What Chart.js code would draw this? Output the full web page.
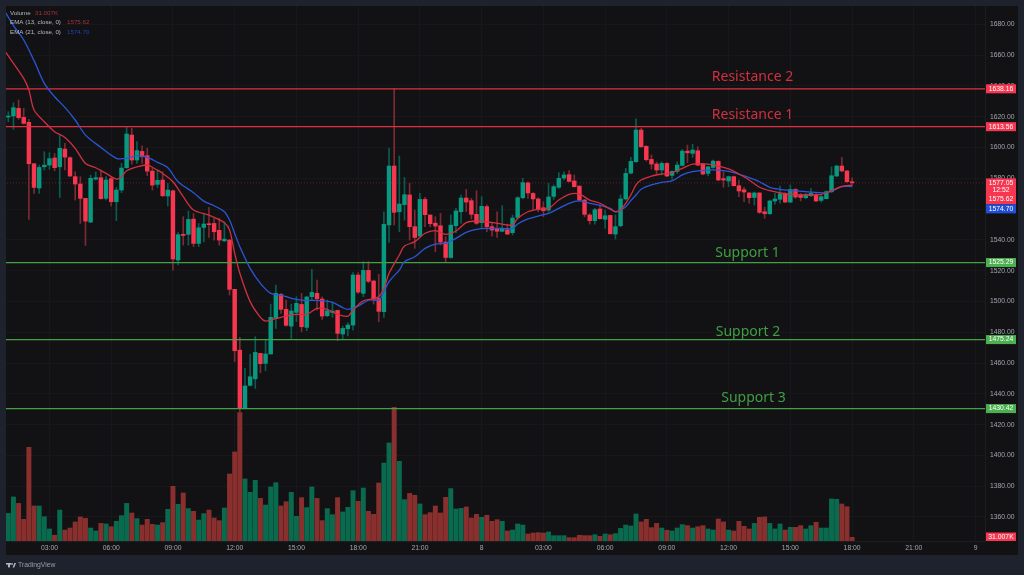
<!DOCTYPE html>
<html>
<head>
<meta charset="utf-8">
<title>Chart</title>
<script src="https://cdn.jsdelivr.net/npm/chart.js@4"></script>
<style>
    html, body { margin: 0; padding: 0; background: #1e222d; overflow: hidden; }
    canvas { display: block; }
</style>
</head>
<body>
<canvas id="priceChart" width="1024" height="575"></canvas>
<script>
// 15 minute candles, first one at 01:00
const opens = [
    1619.8,1620.5,1625.5,1619.6,1616.4,1589.5,1573.7,1587.5,1588.6,1593.2,
    1587.5,1599.0,1593.4,1581.1,1576.3,1567.0,1551.6,1579.5,1580.4,1567.0,
    1579.8,1564.8,1572.4,1586.9,1608.1,1591.9,1597.5,1594.7,1584.7,1576.1,
    1578.9,1568.5,1571.9,1526.9,1543.6,1543.6,1553.5,1537.7,1548.1,1550.5,
    1550.7,1546.2,1539.4,1539.9,1507.9,1468.4,1430.5,1445.5,1449.8,1466.3,
    1459.8,1465.9,1489.0,1504.6,1494.9,1484.0,1492.9,1498.1,1483.2,1503.1,
    1505.3,1501.6,1490.8,1492.9,1494.2,1478.9,1482.3,1484.7,1517.2,1505.3,
    1520.2,1513.3,1502.0,1493.4,1549.7,1588.0,1558.3,1562.9,1569.2,1548.6,
    1542.5,1566.3,1556.2,1550.9,1549.2,1538.6,1528.6,1549.2,1558.3,1567.2,
    1565.5,1556.6,1551.2,1561.6,1548.6,1546.9,1545.6,1546.6,1544.7,1554.6,
    1567.4,1577.0,1570.2,1566.6,1560.9,1559.4,1568.3,1574.2,1580.2,1582.4,
    1578.3,1575.0,1565.9,1556.2,1552.5,1560.1,1553.4,1555.9,1543.8,1549.2,
    1566.6,1583.4,1590.8,1611.4,1600.8,1592.3,1589.3,1585.4,1589.7,1581.9,
    1584.5,1588.4,1597.7,1596.2,1597.9,1589.3,1583.2,1587.1,1591.0,1579.8,
    1578.3,1581.1,1575.2,1572.6,1570.5,1567.6,1570.5,1558.3,1557.0,1565.3,
    1566.4,1570.0,1564.6,1572.8,1569.2,1567.4,1568.7,1569.2,1565.7,1566.8,
    1571.3,1581.5,1588.0,1584.8,1577.8
];
const closes = [
    1620.5,1625.9,1619.4,1615.7,1589.5,1574.1,1587.1,1588.6,1592.8,1586.9,
    1599.5,1593.8,1581.5,1576.3,1567.0,1552.2,1580.0,1580.4,1566.8,1578.9,
    1564.8,1572.4,1586.7,1608.8,1591.9,1598.0,1594.0,1584.7,1575.6,1578.7,
    1568.7,1572.4,1527.6,1543.4,1542.9,1553.3,1537.7,1547.9,1550.3,1549.9,
    1545.3,1539.9,1540.5,1507.9,1468.0,1430.5,1445.1,1451.1,1466.9,1459.6,
    1465.9,1489.7,1505.3,1494.9,1484.5,1493.8,1498.8,1483.6,1502.9,1505.9,
    1501.8,1490.5,1494.0,1493.8,1479.3,1482.5,1484.7,1517.2,1506.1,1520.2,
    1513.1,1501.4,1493.6,1550.1,1588.0,1557.9,1563.3,1569.4,1548.6,1541.6,
    1566.3,1556.4,1550.5,1549.0,1538.6,1528.6,1549.6,1558.8,1567.2,1564.6,
    1556.6,1550.8,1561.8,1548.6,1546.4,1545.6,1546.9,1543.8,1554.2,1567.4,
    1577.2,1570.5,1566.6,1559.6,1559.0,1567.9,1574.6,1580.0,1582.2,1578.0,
    1574.6,1565.9,1556.6,1552.5,1559.6,1553.8,1555.7,1544.0,1548.6,1566.6,
    1583.2,1591.0,1611.4,1600.5,1592.1,1589.3,1585.4,1589.7,1581.5,1584.5,
    1588.6,1597.7,1596.6,1598.4,1588.6,1582.8,1587.5,1591.2,1578.9,1578.9,
    1581.1,1575.2,1571.8,1571.1,1567.4,1570.5,1557.9,1557.0,1565.3,1566.6,
    1570.0,1564.6,1572.8,1567.9,1567.6,1569.4,1570.2,1565.3,1568.1,1571.3,
    1581.7,1588.0,1584.8,1577.8,1577.05
];
const highs = [
    1623.3,1629.1,1630.9,1625.5,1618.3,1589.5,1588.6,1597.3,1596.7,1596.2,
    1608.1,1602.7,1594.0,1584.3,1581.1,1567.0,1582.1,1584.1,1585.4,1581.1,
    1581.1,1573.9,1589.7,1613.1,1612.5,1603.8,1601.2,1599.5,1586.5,1585.4,
    1584.3,1576.7,1572.4,1544.7,1555.1,1558.7,1557.2,1550.7,1556.6,1561.1,
    1554.0,1554.0,1551.8,1540.4,1507.9,1476.7,1456.5,1465.6,1477.1,1466.3,
    1475.0,1498.3,1510.7,1505.3,1500.9,1498.3,1503.1,1505.3,1503.5,1520.9,
    1513.9,1503.1,1500.9,1499.2,1494.4,1484.0,1486.2,1518.7,1518.7,1525.9,
    1525.9,1513.9,1517.6,1558.3,1599.5,1638.2,1594.5,1580.6,1576.8,1559.4,
    1570.2,1567.6,1556.2,1555.1,1557.2,1542.1,1556.2,1560.5,1569.2,1572.8,
    1567.0,1572.0,1568.1,1562.7,1550.8,1558.3,1562.2,1550.3,1556.2,1568.1,
    1580.0,1577.8,1570.7,1567.4,1564.8,1576.7,1575.7,1583.7,1584.3,1585.0,
    1582.2,1575.0,1566.4,1557.2,1560.5,1562.7,1559.4,1555.9,1556.2,1569.2,
    1586.5,1593.6,1618.6,1612.5,1601.2,1595.2,1590.6,1590.8,1590.2,1584.8,
    1590.8,1598.8,1601.6,1602.1,1600.5,1589.7,1588.0,1591.9,1591.5,1584.3,
    1581.5,1581.5,1578.9,1574.2,1570.7,1571.1,1570.7,1561.2,1565.9,1570.2,
    1575.0,1570.7,1575.7,1573.3,1570.2,1570.2,1573.5,1570.7,1569.6,1572.0,
    1587.5,1588.6,1593.6,1585.0,1580.4
];
const lows = [
    1616.8,1611.8,1618.3,1615.3,1553.3,1570.2,1570.2,1585.4,1585.8,1584.9,
    1567.6,1585.4,1581.1,1565.9,1550.7,1536.4,1551.2,1578.9,1566.5,1565.9,
    1562.0,1552.5,1570.7,1586.5,1589.3,1589.7,1589.7,1581.7,1572.4,1574.1,
    1568.1,1562.0,1520.4,1523.7,1536.6,1536.6,1535.6,1535.6,1538.8,1541.6,
    1539.9,1536.6,1538.8,1504.2,1460.9,1428.0,1430.5,1445.1,1443.5,1453.7,
    1455.0,1465.9,1482.5,1492.3,1484.0,1476.0,1486.9,1480.4,1481.0,1500.9,
    1494.4,1488.4,1490.1,1489.7,1474.5,1475.4,1477.6,1481.4,1505.3,1503.1,
    1512.2,1498.3,1486.9,1489.7,1538.4,1549.7,1545.3,1552.9,1539.9,1534.5,
    1542.1,1548.6,1548.6,1532.3,1536.7,1525.8,1528.0,1544.7,1550.8,1558.3,
    1553.6,1550.1,1547.5,1545.3,1542.5,1541.6,1545.3,1543.4,1543.2,1553.6,
    1566.6,1567.0,1559.4,1558.3,1555.1,1558.3,1566.4,1573.5,1578.9,1577.6,
    1574.2,1565.3,1555.1,1550.3,1550.3,1553.4,1547.5,1543.8,1540.6,1548.6,
    1565.9,1582.8,1590.4,1600.1,1591.2,1586.1,1582.8,1582.2,1581.1,1579.3,
    1583.2,1588.0,1590.2,1593.6,1588.2,1582.2,1581.5,1586.5,1578.5,1574.2,
    1574.6,1575.0,1568.1,1564.8,1563.8,1562.7,1557.2,1554.0,1556.6,1563.3,
    1563.8,1564.2,1564.2,1567.0,1565.3,1566.8,1568.1,1564.8,1564.6,1566.6,
    1570.7,1581.1,1584.3,1577.4,1575.0
];
// volume in thousands
const volumes = [
    232,370,316,182,787,294,294,204,101,48,
    260,92,109,160,202,190,109,84,148,143,
    120,165,213,316,235,188,134,182,140,134,
    154,266,459,308,403,272,249,176,230,260,
    193,171,277,563,748,1078,521,409,510,358,
    302,454,490,294,330,409,207,364,280,454,
    358,171,272,221,364,244,283,423,333,445,
    249,224,487,655,823,1123,669,347,400,384,
    311,221,238,294,235,367,440,269,274,286,
    193,224,199,216,165,179,165,84,92,143,
    134,59,67,70,67,76,45,45,45,28,
    28,48,45,45,53,39,59,53,62,106,
    134,126,227,160,182,112,148,109,90,84,
    109,137,129,109,120,129,101,92,185,160,
    92,84,165,123,101,148,199,202,148,101,
    143,92,115,115,129,101,129,157,109,109,
    353,350,311,288,31
];

const ema13Idx = [
    -1,1,3,4,5,7,9,11,13,15,17,19,21,22,23,25,27,29,30,32,34,36,39,42,43,
    44,45,47,49,50,52,54,56,58,60,62,64,66,67,69,71,72,73,74,76,77,79,81,83,85,
    87,89,91,93,96,98,99,101,103,105,107,109,111,113,115,117,118,119,120,121,122,123,125,127,
    129,131,133,136,138,140,142,144,146,148,151,154,158,160,161,162,164
];
const ema13Values = [
    1664.4,1654.7,1644.9,1637.4,1624.4,1616.8,1610.3,1606.6,1599.5,1589.7,1586.9,1583.2,1579.5,1581.0,1584.9,1587.5,1588.6,1585.3,1583.2,1577.8,1568.1,1559.4,1556.1,1551.2,1546.4,
    1531.3,1518.3,1499.9,1489.7,1487.3,1488.8,1490.5,1491.6,1491.6,1495.5,1494.9,1491.6,1490.5,1494.4,1500.5,1501.8,1503.1,1508.5,1518.3,1530.2,1536.0,1538.9,1544.3,1546.0,1543.6,
    1545.8,1551.2,1552.3,1551.8,1550.3,1549.7,1554.0,1558.3,1559.9,1560.5,1565.9,1569.6,1569.8,1565.9,1563.8,1559.9,1558.3,1559.4,1563.8,1569.2,1575.7,1578.9,1581.5,1582.8,
    1583.7,1586.5,1589.3,1589.3,1588.0,1586.1,1582.8,1578.9,1574.2,1572.0,1570.0,1569.2,1569.6,1572.0,1573.5,1574.8,1575.62
];
const ema21Idx = [
    -1,1,3,5,7,9,11,13,15,18,21,23,25,27,29,31,33,36,38,40,42,43,44,
    45,47,49,51,53,55,57,59,61,63,65,66,68,70,72,73,74,76,77,79,81,83,85,
    87,89,91,93,96,98,99,101,103,105,107,109,111,113,115,117,118,119,120,121,122,123,125,127,
    129,131,133,136,139,141,144,146,148,150,153,156,159,161,162,164
];
const ema21Values = [
    1690.4,1679.2,1669.9,1656.5,1641.7,1633.0,1626.1,1617.9,1608.1,1600.1,1593.0,1593.0,1594.7,1593.6,1590.4,1586.9,1577.8,1570.7,1565.2,1562.2,1558.3,1552.9,1544.2,
    1535.6,1521.5,1511.8,1505.3,1504.2,1502.0,1500.9,1500.7,1500.5,1499.4,1496.0,1494.9,1497.0,1500.9,1500.9,1506.4,1512.9,1520.4,1525.9,1529.1,1534.5,1537.3,1537.8,
    1541.0,1544.9,1546.9,1547.5,1547.5,1547.5,1550.3,1553.6,1555.5,1557.3,1560.5,1563.8,1565.3,1563.8,1562.5,1560.5,1558.3,1559.4,1561.6,1565.5,1569.2,1572.9,1575.7,1577.4,
    1578.3,1582.2,1584.3,1585.4,1585.0,1583.7,1580.4,1577.8,1574.2,1572.9,1571.8,1571.1,1570.7,1573.1,1574.6,1574.70
];

// Horizontal levels drawn on the chart
const levelNames = ['Resistance 2', 'Resistance 1', 'Support 1', 'Support 2', 'Support 3'];
const levelPrices = [1638.16, 1613.56, 1525.29, 1475.24, 1430.42];
const lastPrice = 1577.05;
const lastVolume = '31.007K';
const countdown = '12:52';

const xTickIdx = [8, 20, 32, 44, 56, 68, 80, 92, 104, 116, 128, 140, 152, 164, 176, 188];
const xTickLabels = ['03:00', '06:00', '09:00', '12:00', '15:00', '18:00', '21:00', '8', '03:00', '06:00', '09:00', '12:00', '15:00', '18:00', '21:00', '9'];
const priceTicks = [1360, 1380, 1400, 1420, 1440, 1460, 1480, 1500, 1520, 1540, 1560, 1580, 1600, 1620, 1640, 1660, 1680];

const UP = '#089981';
const DOWN = '#f7374f';
const UP_WICK = '#0b5c50';
const DOWN_WICK = '#7c2a33';
const UP_VOL = '#0a6a4e';
const DOWN_VOL = '#89302f';
const RED_LINE = '#e0303f';
const GREEN_LINE = '#43a047';
const FRAME = '#1e222d';
const PANEL = '#121215';
const GRID = '#18181c';
const AXIS_TEXT = '#a3a6af';
const FONT = '"Liberation Sans", Arial, sans-serif';

function isUp(i) {
    return closes[i] >= opens[i];
}

function levelColor(i) {
    return levelPrices[i] > lastPrice ? RED_LINE : GREEN_LINE;
}

function sparseLine(label, idx, values, color, order) {
    return {
        type: 'line',
        label: label,
        data: idx.map((x, i) => ({ x: x, y: values[i] })),
        borderColor: color,
        borderWidth: 1.3,
        pointRadius: 0,
        tension: 0.3,
        yAxisID: 'y',
        order: order
    };
}

function flatLine(label, price, color, width, dash, order) {
    return {
        type: 'line',
        label: label,
        data: [{ x: -2, y: price }, { x: 192, y: price }],
        borderColor: color,
        borderWidth: width,
        borderDash: dash,
        pointRadius: 0,
        yAxisID: 'y',
        order: order
    };
}

const candleIdx = opens.map((_, i) => i);

// Frame around the chart, drawn first
const backgroundPlugin = {
    id: 'background',
    beforeDraw(chart) {
        const ctx = chart.ctx;
        ctx.save();
        ctx.fillStyle = FRAME;
        ctx.fillRect(0, 0, chart.width, chart.height);
        ctx.fillStyle = PANEL;
        ctx.fillRect(6, 6, 1012, 549);
        ctx.restore();
    }
};

function axisBox(ctx, y, height, color, text) {
    ctx.fillStyle = color;
    ctx.fillRect(986, y, 30, height);
    ctx.fillStyle = '#ffffff';
    ctx.font = '6.8px ' + FONT;
    ctx.textAlign = 'center';
    ctx.textBaseline = 'middle';
    ctx.fillText(text, 1001, y + height / 2);
}

// Price labels, level names, legend and logo go on top of everything
const overlayPlugin = {
    id: 'overlay',
    afterDraw(chart) {
        const ctx = chart.ctx;
        const y = chart.scales.y;
        ctx.save();

        levelPrices.forEach((price, i) => {
            const py = y.getPixelForValue(price);
            axisBox(ctx, py - 4.5, 9, levelPrices[i] > lastPrice ? '#f7374f' : '#4caf50', price.toFixed(2));
        });

        // stacked boxes for last price, countdown and the two EMAs
        const top = y.getPixelForValue(lastPrice) - 4.5;
        ctx.fillStyle = '#f7374f';
        ctx.fillRect(986, top, 30, 26);
        ctx.fillStyle = '#ffffff';
        ctx.font = '6.8px ' + FONT;
        ctx.textAlign = 'center';
        ctx.textBaseline = 'middle';
        ctx.fillText(lastPrice.toFixed(2), 1001, top + 4.5);
        ctx.fillText(countdown, 1001, top + 12);
        ctx.fillText(ema13Values[ema13Values.length - 1].toFixed(2), 1001, top + 21);
        axisBox(ctx, top + 26, 9, '#1f4fd8', ema21Values[ema21Values.length - 1].toFixed(2));

        axisBox(ctx, 532.5, 8.5, '#f7374f', lastVolume);

        // level names sit just above their lines
        ctx.font = '14px "Noto Sans", sans-serif';
        ctx.textAlign = 'center';
        ctx.textBaseline = 'alphabetic';
        const nameX = [752.5, 752.5, 747.5, 748, 753.5];
        const nameGap = [8, 7.6, 5.2, 4, 6.5];
        levelNames.forEach((name, i) => {
            ctx.fillStyle = levelPrices[i] > lastPrice ? '#d0303f' : '#3f9e45';
            ctx.fillText(name, nameX[i], y.getPixelForValue(levelPrices[i]) - nameGap[i]);
        });

        // legend top left
        ctx.font = '6.2px ' + FONT;
        ctx.textAlign = 'left';
        ctx.textBaseline = 'middle';
        const legend = [
            ['Volume', lastVolume, '#a5323a', 35],
            ['EMA (13, close, 0)', ema13Values[ema13Values.length - 1].toFixed(2), '#a5323a', 67],
            ['EMA (21, close, 0)', ema21Values[ema21Values.length - 1].toFixed(2), '#1f46b0', 67]
        ];
        legend.forEach((row, i) => {
            const ly = 13.5 + i * 9.2;
            ctx.fillStyle = '#b8bbc4';
            ctx.fillText(row[0], 10, ly);
            ctx.fillStyle = row[2];
            ctx.fillText(row[1], row[3], ly);
        });

        // logo
        ctx.fillStyle = '#b2b5be';
        ctx.fillRect(6, 563, 5, 1.6);
        ctx.fillRect(8, 563, 2, 4.4);
        ctx.beginPath();
        ctx.arc(12, 564, 0.9, 0, Math.PI * 2);
        ctx.fill();
        ctx.beginPath();
        ctx.moveTo(12.6, 567.4);
        ctx.lineTo(14.4, 563);
        ctx.lineTo(16, 563);
        ctx.lineTo(14.2, 567.4);
        ctx.fill();
        ctx.font = '6.8px ' + FONT;
        ctx.fillStyle = '#9a9da6';
        ctx.fillText('TradingView', 18, 565.5);
        ctx.restore();
    }
};

const ctx = document.getElementById('priceChart').getContext('2d');
new Chart(ctx, {
    type: 'bar',
    data: {
        datasets: [
            {
                label: 'Volume',
                data: candleIdx.map(i => ({ x: i, y: volumes[i] })),
                backgroundColor: candleIdx.map(i => isUp(i) ? UP_VOL : DOWN_VOL),
                barThickness: 4.3,
                grouped: false,
                yAxisID: 'volume',
                order: 9
            },
            {
                label: 'Wick',
                data: candleIdx.map(i => ({ x: i, y: [lows[i], highs[i]] })),
                backgroundColor: candleIdx.map(i => isUp(i) ? UP_WICK : DOWN_WICK),
                barThickness: 1,
                grouped: false,
                yAxisID: 'y',
                order: 7
            },
            {
                label: 'Candle',
                data: candleIdx.map(i => ({ x: i, y: [opens[i], closes[i]] })),
                backgroundColor: candleIdx.map(i => isUp(i) ? UP : DOWN),
                barThickness: 3.8,
                minBarLength: 1,
                grouped: false,
                yAxisID: 'y',
                order: 6
            },
            flatLine('Last', lastPrice, '#5a2228', 1, [1, 2], 8),
            ...levelPrices.map((p, i) => flatLine(levelNames[i], p, levelColor(i), 1.3, [], 5)),
            sparseLine('EMA 21', ema21Idx, ema21Values, '#2a57d8', 3),
            sparseLine('EMA 13', ema13Idx, ema13Values, '#d03040', 2)
        ]
    },
    options: {
        responsive: false,
        animation: false,
        events: [],
        layout: { padding: { left: 6, top: 6, right: 0, bottom: 0 } },
        plugins: {
            legend: { display: false },
            tooltip: { enabled: false }
        },
        scales: {
            x: {
                type: 'linear',
                offset: false,
                min: -0.447,
                max: 189.83,
                grid: { color: GRID, offset: false, drawTicks: false },
                border: { color: '#1c1c21' },
                afterBuildTicks(scale) {
                    scale.ticks = xTickIdx.map(v => ({ value: v }));
                },
                afterFit(scale) {
                    scale.height = 34;
                    scale.paddingLeft = 0;
                    scale.paddingRight = 0;
                },
                ticks: {
                    autoSkip: false,
                    maxRotation: 0,
                    padding: 3,
                    color: AXIS_TEXT,
                    font: { family: FONT, size: 6.8 },
                    callback: value => xTickLabels[xTickIdx.indexOf(value)]
                }
            },
            y: {
                position: 'right',
                min: 1344.4,
                max: 1691.96,
                grid: { color: GRID, drawTicks: false },
                border: { color: '#1c1c21' },
                afterBuildTicks(scale) {
                    scale.ticks = priceTicks.map(v => ({ value: v }));
                },
                afterFit(scale) {
                    scale.width = 39;
                    scale.paddingTop = 0;
                    scale.paddingBottom = 0;
                },
                ticks: {
                    padding: 5,
                    color: AXIS_TEXT,
                    font: { family: FONT, size: 6.8 },
                    callback: value => value.toFixed(2)
                }
            },
            volume: {
                display: false,
                position: 'left',
                min: 0,
                max: 4494,
                grid: { display: false }
            }
        }
    },
    plugins: [backgroundPlugin, overlayPlugin]
});
</script>
</body>
</html>
